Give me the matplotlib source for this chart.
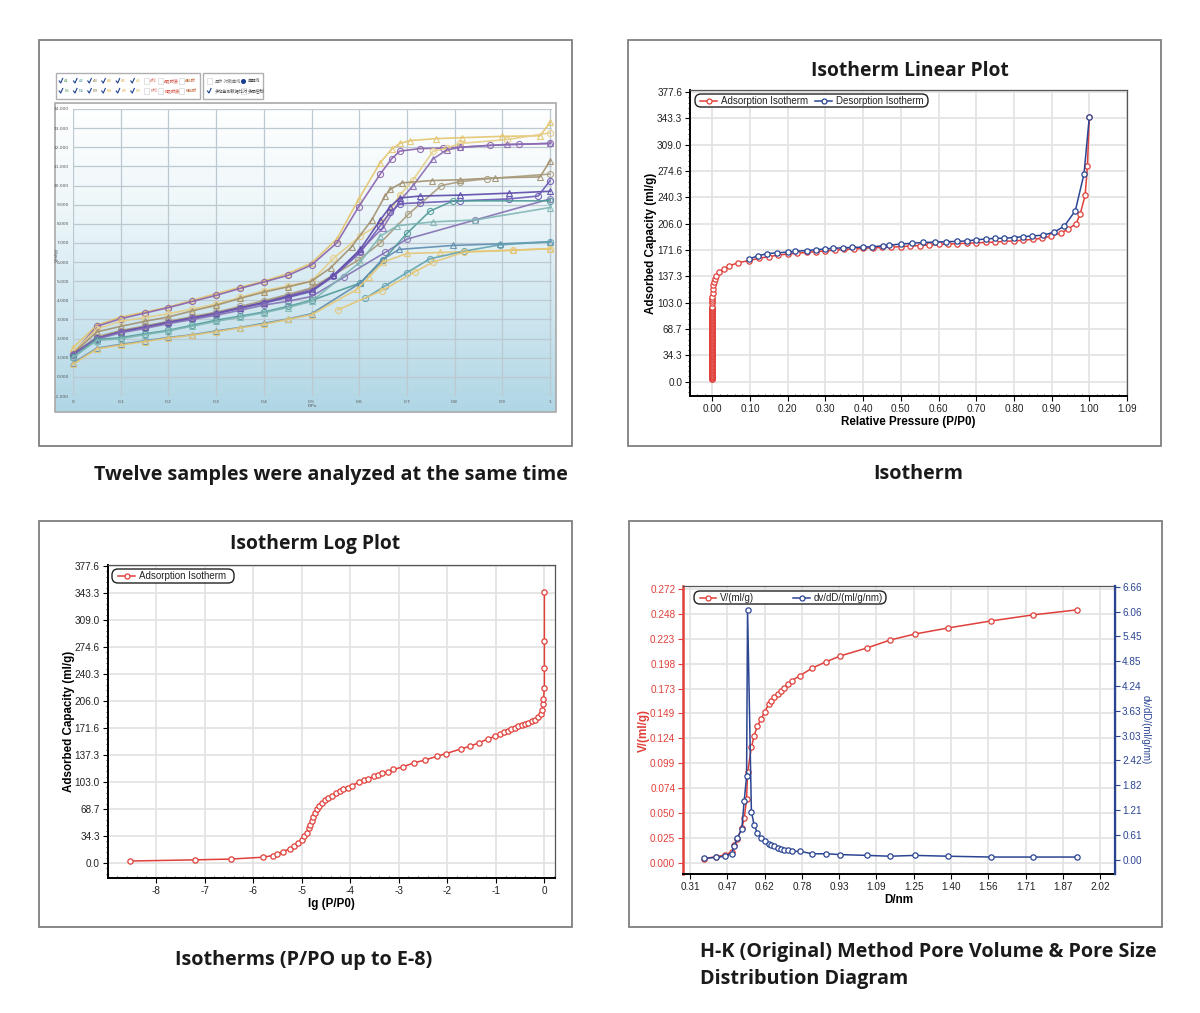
import numpy as np
import matplotlib
matplotlib.use('Agg')
import matplotlib.pyplot as plt
from matplotlib.colors import LinearSegmentedColormap
from matplotlib.patches import FancyBboxPatch, Rectangle
from matplotlib.ticker import AutoMinorLocator

# panel 1, twelve sample overlay
low_x = [0, .05, .1, .15, .2, .25, .3, .35, .4, .45, .5]
yellow_a_x = low_x + [.553, .599, .644, .668, .685, .707, .76, .815, .9, .979, 1]
yellow_a_y = [1.53, 2.7, 3.13, 3.38, 3.65, 4.0, 4.35, 4.68, 5.0, 5.4, 5.95, 7.2, 9.3, 11.2, 11.9, 12.2, 12.35, 12.45, 12.5, 12.57, 12.6, 13.3]
purple_a_x = low_x + [.553, .599, .644, .668, .685, .727, .776, .811, .874, .934, 1]
purple_a_y = [1.22, 2.64, 3.04, 3.33, 3.62, 3.94, 4.26, 4.62, 4.96, 5.3, 5.85, 7.0, 8.9, 10.6, 11.4, 11.8, 11.93, 11.96, 12.0, 12.1, 12.15, 12.2]
yellow_b_x = low_x + [.546, .602, .65, .685, .713, .755, .783, .811, .909, 1]
yellow_b_y = [1.3, 2.5, 2.9, 3.1, 3.3, 3.55, 3.8, 4.15, 4.5, 4.75, 5.0, 6.2, 7.36, 8.1, 9.5, 10.3, 11.8, 11.95, 12.2, 12.4, 12.75]
purple_b_x = low_x + [.546, .602, .65, .685, .713, .755, .783, .811, .909, 1]
purple_b_y = [1.2, 2.05, 2.38, 2.62, 2.87, 3.1, 3.34, 3.62, 3.91, 4.25, 4.6, 5.3, 6.6, 7.8, 9.2, 10.0, 11.4, 11.85, 12.0, 12.15, 12.2]
brown_a_x = low_x + [.54, .584, .626, .654, .665, .689, .752, .811, .885, .979, 1]
brown_a_y = [1.22, 2.35, 2.64, 2.9, 3.13, 3.45, 3.74, 4.1, 4.43, 4.7, 5.0, 5.7, 6.8, 8.2, 9.45, 9.8, 10.14, 10.26, 10.3, 10.4, 10.45, 11.3]
brown_b_x = low_x + [.598, .644, .703, .772, .811, .867, 1]
brown_b_y = [1.15, 2.1, 2.42, 2.66, 2.9, 3.15, 3.38, 3.68, 3.98, 4.3, 4.65, 6.1, 7.0, 8.5, 10.0, 10.2, 10.35, 10.6]
violet_a_x = low_x + [.546, .602, .644, .665, .685, .727, .811, .913, 1]
violet_a_y = [1.18, 2.0, 2.36, 2.6, 2.85, 3.08, 3.32, 3.6, 3.88, 4.2, 4.5, 5.3, 6.66, 8.2, 8.9, 9.35, 9.45, 9.5, 9.6, 9.7]
blue_a_x = low_x + [.546, .602, .644, .665, .685, .727, .811, .913, .975, 1]
blue_a_y = [1.16, 2.02, 2.34, 2.58, 2.83, 3.06, 3.3, 3.58, 3.85, 4.15, 4.46, 5.25, 6.5, 7.9, 8.6, 9.05, 9.1, 9.2, 9.3, 9.45, 10.26]
violet_b_x = low_x + [.567, .654, .7, .843, 1]
violet_b_y = [1.12, 1.98, 2.3, 2.53, 2.78, 3.0, 3.22, 3.48, 3.75, 3.95, 4.2, 5.2, 6.5, 7.2, 8.2, 9.3]
teal_a_x = low_x + [.602, .65, .7, .748, .797, 1]
teal_a_y = [1.04, 1.95, 2.05, 2.25, 2.43, 2.7, 2.96, 3.17, 3.39, 3.68, 4.0, 4.9, 6.1, 7.5, 8.66, 9.2, 9.2]
teal_b_x = low_x + [.602, .644, .68, .755, .843, 1]
teal_b_y = [1.02, 1.9, 2.0, 2.2, 2.4, 2.65, 2.9, 3.12, 3.35, 3.62, 3.95, 6.0, 7.35, 7.9, 8.1, 8.2, 8.85]
blue_low_x = low_x + [.602, .647, .683, .797, .895, 1]
blue_low_y = [.72, 1.5, 1.7, 1.88, 2.06, 2.2, 2.4, 2.58, 2.8, 3.02, 3.3, 4.9, 6.1, 6.66, 6.87, 6.95, 7.06]
yellow_low_x = low_x + [.595, .62, .65, .7, .769, .923, 1]
yellow_low_y = [.66, 1.46, 1.66, 1.84, 2.03, 2.18, 2.36, 2.56, 2.75, 3.0, 3.25, 4.57, 5.2, 6.0, 6.45, 6.5, 6.62, 6.7]
teal_low_x = [.612, .654, .7, .748, .82, .895, 1]
teal_low_y = [4.1, 4.75, 5.45, 6.17, 6.57, 6.9, 7.06]
yellow_low2_x = [.555, .647, .717, .755, .82, .923, 1]
yellow_low2_y = [3.5, 4.5, 5.5, 6.0, 6.52, 6.62, 6.7]
p1_yticks = [-1, 0, 1, 2, 3, 4, 5, 6, 7, 8, 9, 10, 11, 12, 13, 14]
p1_xticks = [0, .1, .2, .3, .4, .5, .6, .7, .8, .9, 1]
p1_row_a = ['A1', 'A2', 'A3', 'A4', 'A5', 'A6', 'A均', 'A吸附质', 'A脱附']
p1_row_b = ['B1', 'B2', 'B3', 'B4', 'B5', 'B6', 'B均', 'B吸附质', 'B脱附']

# panel 2, linear isotherm
stack_y = [3, 4, 5, 6, 7, 8, 9, 10, 11, 12, 13, 14, 15, 16, 17, 18, 19, 20, 21, 22, 23, 24, 25, 26, 27, 28, 29, 30, 31, 32, 33, 34, 35, 36, 37, 38, 39, 40, 41, 42, 43, 44, 45, 46, 47, 48, 49, 50, 51, 52, 53, 54, 55, 56, 57, 58, 59, 60, 61, 62, 63, 64, 65, 66, 67, 68, 69, 70, 71, 72, 73, 74, 75, 76, 77, 78, 79, 80, 81, 82, 83, 84, 85, 86, 87, 88, 89, 90, 91, 92, 93, 94, 95, 96, 97, 98]
stack_x = [0.0] * len(stack_y)
ads_x = [0.0, 0.0, 0.0, 0.0, .001, .002, .003, .005, .007, .011, .019, .03, .045, .068, .098, .125, .15, .175, .2, .225, .25, .275, .3, .325, .35, .375, .4, .425, .45, .475, .5, .525, .55, .575, .6, .625, .65, .675, .7, .725, .75, .775, .8, .825, .85, .875, .899, .925, .944, .965, .976, .989, .995, 1.0]
ads_y = [102, 105, 108, 111, 116, 121, 126, 130, 134, 138, 143, 147, 151, 155, 158, 161, 163, 165, 166.5, 167.5, 168.5, 169.5, 170.5, 171.5, 172.5, 173, 174, 174.5, 175, 175.5, 176, 177, 177.5, 178, 179, 179.5, 180, 180.5, 181, 181.5, 182, 183, 183.5, 184.5, 185.5, 187, 190, 194, 199, 206, 219, 243, 281, 345]
des_x = [1.0, .986, .963, .934, .907, .877, .848, .824, .8, .775, .75, .725, .7, .675, .65, .62, .59, .56, .53, .5, .47, .452, .423, .4, .37, .346, .32, .298, .274, .25, .22, .2, .172, .146, .12, .098]
des_y = [345, 271, 223, 203, 195, 191, 190, 189, 188, 187, 187, 186, 185, 183.5, 183, 182.5, 182, 181.5, 180.5, 179.5, 178, 177, 176, 175.5, 175, 174.5, 174, 173, 172, 171, 170, 169, 168, 167, 164, 160]
lin_xticks = [0, .1, .2, .3, .4, .5, .6, .7, .8, .9, 1.0, 1.1]
lin_xlabels = ['0.00', '0.10', '0.20', '0.30', '0.40', '0.50', '0.60', '0.70', '0.80', '0.90', '1.00', '1.09']
cap_ticks = [0.0, 34.33, 68.66, 103.0, 137.3, 171.6, 206.0, 240.3, 274.6, 309.0, 343.3, 377.6]
cap_labels = ['0.0', '34.3', '68.7', '103.0', '137.3', '171.6', '206.0', '240.3', '274.6', '309.0', '343.3', '377.6']

# panel 3, log isotherm
log_x = [-8.54, -7.2, -6.46, -5.805, -5.6, -5.5, -5.38, -5.25, -5.15, -5.07, -5, -4.95, -4.9, -4.85, -4.82, -4.79, -4.76, -4.73, -4.69, -4.64, -4.58, -4.51, -4.45, -4.38, -4.29, -4.21, -4.14, -4.05, -3.97, -3.81, -3.71, -3.63, -3.52, -3.43, -3.34, -3.22, -3.11, -2.92, -2.68, -2.45, -2.22, -2.03, -1.72, -1.53, -1.34, -1.16, -1.02, -.92, -.84, -.75, -.68, -.61, -.54, -.47, -.4, -.33, -.26, -.2, -.13, -.08, -.04, -.03, -.02, 0, 0, 0, 0]
log_y = [2.5, 4, 5, 7.3, 9.4, 11.6, 14.6, 18, 21.5, 25, 29.6, 34, 38.6, 44, 48.5, 53.6, 59, 64, 68.7, 73, 76.4, 80, 82.4, 85.4, 88.4, 91, 93.5, 95.7, 98.3, 103, 105, 107, 110, 112, 114, 116, 119, 122, 127.5, 131, 135.6, 139, 145, 148.5, 153, 158, 161, 164, 166, 168, 170, 172, 174, 175.5, 177, 178, 180, 182.4, 185.4, 190, 195, 201.7, 208, 222, 247.6, 282, 345]
log_xticks = [-8, -7, -6, -5, -4, -3, -2, -1, 0]

# panel 4, H-K pore volume and size distribution
pore_d = [.37, .418, .456, .484, .495, .507, .526, .536, .546, .55, .566, .577, .591, .607, .621, .639, .648, .662, .677, .69, .703, .72, .735, .769, .82, .876, .936, 1.048, 1.144, 1.248, 1.386, 1.565, 1.74, 1.924]
pore_v = [.004, .006, .0076, .011, .0175, .024, .034, .044, .063, .0897, .1146, .1258, .136, .1428, .15, .1577, .161, .1644, .1675, .171, .174, .1775, .181, .186, .1935, .1995, .2055, .2134, .2213, .2273, .2333, .2403, .2463, .2513]
pore_dv = [.03, .05, .08, .146, .34, .52, .75, 1.43, 2.03, 6.1, 1.17, .85, .65, .53, .46, .39, .365, .325, .285, .26, .244, .22, .2, .2, .14, .14, .12, .1, .08, .1, .08, .06, .06, .06]
d_ticks = [.31, .4655, .621, .7765, .932, 1.0875, 1.243, 1.3985, 1.554, 1.7095, 1.865, 2.0205]
d_labels = ['0.31', '0.47', '0.62', '0.78', '0.93', '1.09', '1.25', '1.40', '1.56', '1.71', '1.87', '2.02']
v_ticks = [0, .02473, .04946, .07419, .09892, .12365, .14838, .17311, .19784, .22257, .2473, .27203]
v_labels = ['0.000', '0.025', '0.050', '0.074', '0.099', '0.124', '0.149', '0.173', '0.198', '0.223', '0.248', '0.272']
dv_ticks = [0, .6055, 1.211, 1.8165, 2.422, 3.0275, 3.633, 4.2385, 4.844, 5.4495, 6.055, 6.6605]
dv_labels = ['0.00', '0.61', '1.21', '1.82', '2.42', '3.03', '3.63', '4.24', '4.85', '5.45', '6.06', '6.66']

W, H = 1200, 1013
RED = '#e0403a'
BLUE = '#2b4593'
GRID = '#e2e2e2'
SANS = 'Liberation Sans'
HEAD = 'Open Sans'

fig = plt.figure(figsize=(W / 100, H / 100), dpi=100, facecolor='white')


def px_axes(l, t, r, b, **kw):
    return fig.add_axes([l / W, 1 - b / H, (r - l) / W, (b - t) / H], **kw)


# whole figure in pixels, used for panel frames, captions and the legends
bg = px_axes(0, 0, W, H, zorder=0)
bg.axis('off')
top = px_axes(0, 0, W, H, zorder=10)
top.set_xlim(0, W)
top.set_ylim(H, 0)
top.axis('off')
top.patch.set_alpha(0)

for l, t, r, b in [(39, 40, 572, 446), (628, 40, 1161, 446), (39, 521, 572, 927), (629, 521, 1162, 927)]:
    bg.add_patch(Rectangle((l, t), r - l, b - t, fc='white', ec='#7f7f7f', lw=1.3))


def caption(x, y, s, ha='center', size=14.25):
    top.text(x, y, s, ha=ha, va='center', family=HEAD, weight='bold', fontsize=size, color='#1a1a1a')


caption(331, 475, 'Twelve samples were analyzed at the same time')
caption(918, 474, 'Isotherm')
caption(304, 960, 'Isotherms (P/PO up to E-8)')
caption(700, 952, 'H-K (Original) Method Pore Volume & Pore Size', ha='left')
caption(700, 979, 'Distribution Diagram', ha='left')
caption(910, 71, 'Isotherm Linear Plot', size=13.9)
caption(315, 544, 'Isotherm Log Plot', size=13.9)

# panel 1
cmap = LinearSegmentedColormap.from_list('sky', ['#ffffff', '#eef7fa', '#d0e7f0', '#b0d6e5'])
bg.imshow(np.linspace(0, 1, 200).reshape(-1, 1), cmap=cmap, extent=(55, 556, 412, 103), aspect='auto', zorder=1)
bg.set_xlim(0, W)
bg.set_ylim(H, 0)
bg.add_patch(Rectangle((55, 103), 501, 309, fc='none', ec='#a9a9a9', lw=1.2, zorder=2))

ax1 = px_axes(73, 109, 552, 396, zorder=3)
ax1.patch.set_alpha(0)
ax1.set_xlim(0, 1.004)
ax1.set_ylim(-1, 14)
ax1.set_xticks(p1_xticks)
ax1.set_xticklabels(['0', '0.1', '0.2', '0.3', '0.4', '0.5', '0.6', '0.7', '0.8', '0.9', '1'])
ax1.set_yticks(p1_yticks)
ax1.set_yticklabels(['%.3f' % v for v in p1_yticks])
ax1.tick_params(length=0, labelsize=3.2, colors='#555555', pad=3)
ax1.grid(True, color='#bcc9d0', lw=0.9)
ax1.set_axisbelow(True)
for s in ax1.spines.values():
    s.set_visible(False)

samples = [
    (yellow_a_x, yellow_a_y, '#e3c56c', '^'), (purple_a_x, purple_a_y, '#8a62ac', 'o'),
    (yellow_b_x, yellow_b_y, '#e6cd84', 'o'), (purple_b_x, purple_b_y, '#8a6cb4', '^'),
    (brown_a_x, brown_a_y, '#a2906e', '^'), (brown_b_x, brown_b_y, '#a89a7c', 'o'),
    (violet_a_x, violet_a_y, '#5a48a8', '^'), (blue_a_x, blue_a_y, '#6c58b4', 'o'),
    (violet_b_x, violet_b_y, '#8470b4', 'o'), (teal_a_x, teal_a_y, '#4f9a98', 'o'),
    (teal_b_x, teal_b_y, '#7fb6b4', '^'), (blue_low_x, blue_low_y, '#5f8cb0', '^'),
    (yellow_low_x, yellow_low_y, '#e5c674', '^'), (teal_low_x, teal_low_y, '#62a2b0', 'o'),
    (yellow_low2_x, yellow_low2_y, '#e5c674', 'o'),
]
for sx, sy, c, m in samples:
    ax1.plot(sx, sy, color=c, lw=1.2, marker=m, ms=4.4, mfc='none', mew=0.8, clip_on=False, alpha=0.9)

top.text(312, 406, 'P/Po', fontsize=3.2, color='#555555', ha='center', va='center', family=SANS)
top.text(57, 255, 'V(ml/g)', fontsize=3.2, color='#555555', rotation=90, ha='center', va='center', family=SANS)

# checkbox strip above panel 1
top.add_patch(Rectangle((56, 73), 144, 26, fc='white', ec='#b0b0b0', lw=1))
top.add_patch(Rectangle((203, 73), 60, 26, fc='white', ec='#b0b0b0', lw=1))
box_cols = [60.7, 75, 89.3, 103.3, 117.7, 132.3, 146.7, 160.7, 181.7]
row_cols = ['#5f9f58', '#5f9fa0', '#8a7a3c', '#d8b23c', '#e2b050', '#e0c060', '#d87060', '#d04030', '#c06030']
CJK = ['Noto Sans CJK SC', 'DejaVu Sans']
for labels, y in [(p1_row_a, 81), (p1_row_b, 91)]:
    for i, (cx, lab) in enumerate(zip(box_cols, labels)):
        if i < 6:
            top.plot([cx - 1.5, cx, cx + 2], [y, y + 2, y - 2.5], color='#1b3f8f', lw=0.8)
        else:
            top.add_patch(Rectangle((cx - 2.5, y - 3), 5, 6, fc='white', ec='#dddddd', lw=0.6))
        top.text(cx + 3.5, y, lab, fontsize=3, family=CJK, color=row_cols[i], va='center')
top.add_patch(Rectangle((206.5, 78), 5, 6, fc='white', ec='#dddddd', lw=0.6))
top.text(215, 81, '显示-对数曲线', fontsize=3, family=CJK, color='#666666', va='center')
top.plot([243], [81], marker='o', ms=2.6, color='#1b3f8f')
top.text(248, 81, '单器线', fontsize=3, family=CJK, color='#444444', va='center')
top.plot([207.5, 209, 211], [91, 93, 88.5], color='#1b3f8f', lw=0.8)
top.text(215, 91, '多站监测数据比对', fontsize=3, family=CJK, color='#444444', va='center')
top.add_patch(Rectangle((240.5, 88), 5, 6, fc='white', ec='#dddddd', lw=0.6))
top.text(248, 91, '多层控制', fontsize=3, family=CJK, color='#444444', va='center')


def style_axes(ax, xticks, xlabels, xtitle, ytitle):
    ax.set_xticks(xticks)
    ax.set_xticklabels(xlabels, family=SANS, fontsize=7.2, color='#222222')
    ax.grid(True, color=GRID, lw=1.2)
    ax.set_axisbelow(True)
    ax.xaxis.set_minor_locator(AutoMinorLocator(5))
    ax.yaxis.set_minor_locator(AutoMinorLocator(5))
    ax.tick_params(which='major', length=3.5, width=0.8, pad=2)
    ax.tick_params(which='minor', length=1.8, width=0.5)
    ax.tick_params(axis='x', which='minor', direction='in')
    for side in ['left', 'bottom']:
        ax.spines[side].set_linewidth(1.4)
        ax.spines[side].set_color('black')
    for side in ['top', 'right']:
        ax.spines[side].set_linewidth(0.9)
        ax.spines[side].set_color('#555555')
    ax.set_xlabel(xtitle, family=SANS, weight='bold', fontsize=8.4, labelpad=2)
    ax.set_ylabel(ytitle, family=SANS, weight='bold', fontsize=8.4, labelpad=0)


def legend_box(l, t, r, b, items):
    top.add_patch(FancyBboxPatch((l, t), r - l, b - t, boxstyle='round,pad=0,rounding_size=6',
                                 fc='white', ec='#222222', lw=1.0))
    my = (t + b) / 2
    for x0, x1, c, s in items:
        top.plot([x0, x1], [my, my], color=c, lw=1.1)
        top.plot([(x0 + x1) / 2], [my], marker='o', ms=3.6, mfc='white', mec=c, mew=0.9)
        top.text(x1 + 4, my, s, family=SANS, fontsize=7, color='#222222', va='center', ha='left')


line_kw = dict(lw=1.1, marker='o', ms=3.8, mfc='white', mew=0.9)

# panel 2
ax2 = px_axes(690, 90, 1127, 396, zorder=3)
ax2.set_xlim((690 - 712.3) / 377, (1127 - 712.3) / 377)
ax2.set_ylim((381.7 - 396) / .767, (381.7 - 90) / .767)
ax2.set_yticks(cap_ticks)
ax2.set_yticklabels(cap_labels, family=SANS, fontsize=7.2, color='#222222')
style_axes(ax2, lin_xticks, lin_xlabels, 'Relative Pressure (P/P0)', 'Adsorbed Capacity (ml/g)')
ax2.plot(stack_x + ads_x, stack_y + ads_y, color=RED, mec=RED, **line_kw)
ax2.plot(des_x, des_y, color=BLUE, mec=BLUE, **line_kw)
legend_box(695, 94, 928, 107, [(700, 717, RED, 'Adsorption Isotherm'), (815, 832, BLUE, 'Desorption Isotherm')])

# panel 3
ax3 = px_axes(107.5, 565, 555, 878, zorder=3)
ax3.set_xlim((107.5 - 544.4) / 48.55, (555 - 544.4) / 48.55)
ax3.set_ylim((863 - 878) / .7865, (863 - 565) / .7865)
ax3.set_yticks(cap_ticks)
ax3.set_yticklabels(cap_labels, family=SANS, fontsize=7.2, color='#222222')
style_axes(ax3, log_xticks, [str(v) for v in log_xticks], 'lg (P/P0)', 'Adsorbed Capacity (ml/g)')
ax3.plot(log_x, log_y, color=RED, mec=RED, **line_kw)
legend_box(112, 569, 234, 583, [(118, 135, RED, 'Adsorption Isotherm')])

# panel 4
ax4 = px_axes(683, 586, 1114.5, 874, zorder=3)
ax4.set_xlim(.31 + (683 - 690) / 239.8, .31 + (1114.5 - 690) / 239.8)
v_step = .02473 / 24.88
ax4.set_ylim((862.7 - 874) * v_step, (862.7 - 586) * v_step)
ax4.set_yticks(v_ticks)
ax4.set_yticklabels(v_labels, family=SANS, fontsize=7.2, color=RED)
style_axes(ax4, d_ticks, d_labels, 'D/nm', 'V/(ml/g)')
ax4.yaxis.label.set_color(RED)
ax4.tick_params(axis='y', which='both', colors=RED)
ax4.yaxis.set_minor_locator(plt.NullLocator())
ax4.xaxis.set_minor_locator(plt.NullLocator())
ax4.spines['left'].set_color(RED)
ax4.spines['left'].set_linewidth(1.8)
ax4.plot(pore_d, pore_v, color=RED, mec=RED, **line_kw)

ax4b = ax4.twinx()
ax4b.set_zorder(4)
dv_step = .6055 / 24.8
ax4b.set_ylim((859.5 - 874) * dv_step, (859.5 - 586) * dv_step)
ax4b.set_yticks(dv_ticks)
ax4b.set_yticklabels(dv_labels, family=SANS, fontsize=7.2, color=BLUE)
ax4b.tick_params(axis='y', length=3.5, width=0.8, colors=BLUE, pad=2)
ax4b.spines['right'].set_color(BLUE)
ax4b.spines['right'].set_linewidth(1.6)
ax4b.spines['left'].set_visible(False)
ax4b.spines['bottom'].set_visible(False)
ax4b.spines['top'].set_visible(False)
ax4b.plot(pore_d, pore_dv, color=BLUE, mec=BLUE, **line_kw)
top.text(1146, 730, 'dv/dD/(ml/g/nm)', family=SANS, fontsize=7, color=BLUE, rotation=270, ha='center', va='center')
legend_box(694, 591, 886, 604, [(700, 716, RED, 'V/(ml/g)'), (793, 810, BLUE, 'dv/dD/(ml/g/nm)')])

fig.savefig('out.png', dpi=100)
